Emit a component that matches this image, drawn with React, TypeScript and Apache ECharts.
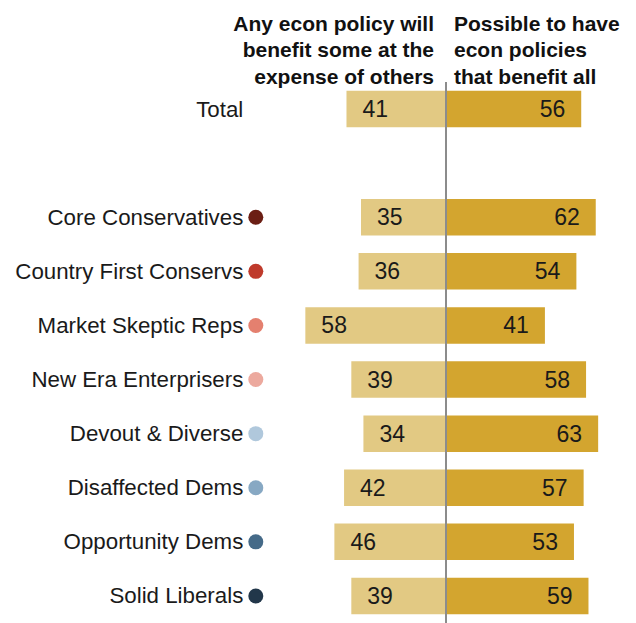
import React, { useEffect, useRef } from "react";
import * as echarts from "echarts";

const categories = [
  "Total",
  "",
  "Core Conservatives",
  "Country First Conservs",
  "Market Skeptic Reps",
  "New Era Enterprisers",
  "Devout & Diverse",
  "Disaffected Dems",
  "Opportunity Dems",
  "Solid Liberals",
];
const benefitSomeAtExpense = [41, null, 35, 36, 58, 39, 34, 42, 46, 39];
const benefitAll = [56, null, 62, 54, 41, 58, 63, 57, 53, 59];
const dotColors = [
  null,
  null,
  "#6B1E14",
  "#BF3A2B",
  "#E4806F",
  "#ECA99E",
  "#B0C8DC",
  "#87A8C3",
  "#456A88",
  "#22374A",
];
const leftHeader = "Any econ policy will\nbenefit some at the\nexpense of others";
const rightHeader = "Possible to have\necon policies\nthat benefit all";

const FONT = "'Liberation Sans', Arial, sans-serif";

export default function App() {
  const ref = useRef<HTMLDivElement>(null);
  useEffect(() => {
    if (!ref.current) return;
    const chart = echarts.init(ref.current, null, { renderer: "svg" });
    const rich: Record<string, any> = {
      name: { fontSize: 22.3, color: "#1a1a1a", fontFamily: FONT, verticalAlign: "middle" },
      g: { width: 5, verticalAlign: "middle" },
      sp: { width: 20, verticalAlign: "middle" },
    };
    dotColors.forEach((c, i) => {
      if (c) {
        rich["d" + i] = {
          width: 15,
          height: 15,
          borderRadius: 7.5,
          backgroundColor: c,
          verticalAlign: "middle",
        };
      }
    });
    const center = 445.7;
    const scale = 2.42;
    const range = 70;
    chart.setOption({
      animation: false,
      grid: {
        left: center - range * scale,
        width: 2 * range * scale,
        top: 82,
        height: 547,
        containLabel: false,
      },
      xAxis: {
        type: "value",
        min: -range,
        max: range,
        show: false,
      },
      yAxis: {
        type: "category",
        inverse: true,
        data: categories,
        axisLine: { show: false },
        axisTick: { show: false },
        splitLine: { show: false },
        axisLabel: {
          margin: 13,
          formatter: (value: string, index: number) => {
            if (!value) return "";
            if (dotColors[index]) {
              return `{name|${value}}{g| }{d${index}| }`;
            }
            return `{name|${value}}{sp| }`;
          },
          rich,
        },
      },
      series: [
        {
          type: "bar",
          name: "Any econ policy will benefit some at the expense of others",
          data: benefitSomeAtExpense.map((v) => (v == null ? null : -v)),
          barWidth: 36.5,
          barGap: "-100%",
          itemStyle: { color: "#E2C983" },
          label: {
            show: true,
            position: "insideLeft",
            distance: 16,
            formatter: (p: any) => String(Math.abs(p.value)),
            fontSize: 23,
            color: "#1a1a1a",
            fontFamily: FONT,
          },
          silent: true,
        },
        {
          type: "bar",
          name: "Possible to have econ policies that benefit all",
          data: benefitAll,
          barWidth: 36.5,
          barGap: "-100%",
          itemStyle: { color: "#D3A52F" },
          label: {
            show: true,
            position: "insideRight",
            distance: 16,
            fontSize: 23,
            color: "#1a1a1a",
            fontFamily: FONT,
          },
          markLine: {
            silent: true,
            symbol: "none",
            label: { show: false },
            lineStyle: { color: "#8c8c8c", width: 2, type: "solid" },
            data: [{ xAxis: 0 }],
            z: 10,
          },
          silent: true,
        },
      ],
      graphic: [
        {
          type: "text",
          right: 636 - 434,
          top: 10,
          style: {
            text: leftHeader,
            font: `bold 21px ${FONT}`,
            fill: "#111",
            textAlign: "right",
            lineHeight: 26.5,
          },
        },
        {
          type: "text",
          left: 454,
          top: 10,
          style: {
            text: rightHeader,
            font: `bold 21px ${FONT}`,
            fill: "#111",
            textAlign: "left",
            lineHeight: 26.5,
          },
        },
      ],
    });
    return () => chart.dispose();
  }, []);
  return (
    <div
      ref={ref}
      style={{ position: "absolute", left: 0, top: 0, width: 636, height: 623, background: "#fff" }}
    />
  );
}
